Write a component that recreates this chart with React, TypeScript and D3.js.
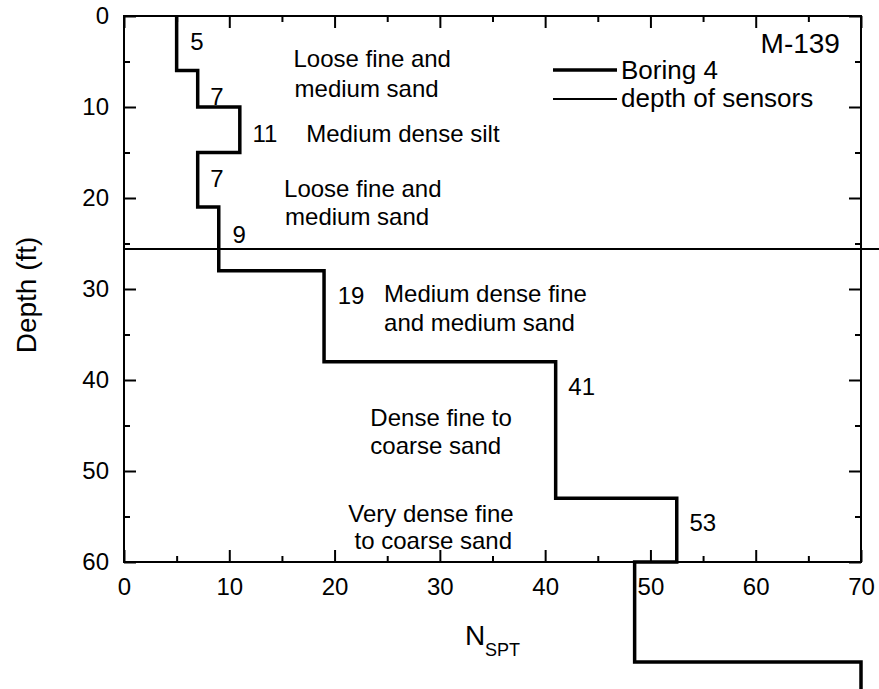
import React, { useRef, useEffect } from "react";
import * as d3 from "d3";

const W = 879;
const H = 689;
const margin = { left: 124, top: 16, right: 18, bottom: 127 };
const FONT = "'Liberation Sans', Arial, Helvetica, sans-serif";

// boring 4: N value of each layer with its top and bottom depth (ft)
const layerN = [5, 7, 11, 7, 9, 19, 41, 52.5, 48.5, 70];
const layerTop = [0, 6, 10, 15, 21, 28, 38, 53, 60, 71];
const layerBottom = [6, 10, 15, 21, 28, 38, 53, 60, 71, 78];

const sensorDepth = 25.6;

const xTicks = [0, 10, 20, 30, 40, 50, 60, 70];
const xMinor = [5, 15, 25, 35, 45, 55, 65];
const yTicks = [0, 10, 20, 30, 40, 50, 60];
const yMinor = [5, 15, 25, 35, 45, 55];

// N numbers written beside the layers (placed in N / depth units)
const nLabels = ["5", "7", "11", "7", "9", "19", "41", "53"];
const nLabelN = [6.3, 8.2, 12.2, 8.2, 10.3, 20.3, 42.2, 53.7];
const nLabelDepth = [3.7, 9.8, 13.8, 18.8, 24.9, 31.6, 41.6, 56.6];

// soil descriptions
const descText = [
  "Loose fine and", "medium sand", "Medium dense silt",
  "Loose fine and", "medium sand",
  "Medium dense fine", "and medium sand",
  "Dense fine to", "coarse sand",
  "Very dense fine", "to coarse sand",
];
const descN = [16.1, 16.2, 17.3, 15.2, 15.3, 24.7, 24.7, 23.4, 23.4, 21.3, 21.9];
const descDepth = [5.6, 8.9, 13.8, 19.9, 23.0, 31.4, 34.6, 45.0, 48.1, 55.6, 58.6];

const App = () => {
  const ref = useRef(null);

  useEffect(() => {
    document.body.style.margin = "0";
    const svg = d3.select(ref.current);
    svg.selectAll("*").remove();

    const x = d3.scaleLinear().domain([0, 70]).range([margin.left, W - margin.right]);
    const y = d3.scaleLinear().domain([0, 60]).range([margin.top, H - margin.bottom]);
    const [x0, x1] = x.range();
    const [y0, y1] = y.range();

    // axes with inward ticks
    const major = 12, minor = 6;
    const fmt = d3.format("d");
    const axes = [
      { ax: d3.axisBottom(x).tickValues(xTicks).tickSize(-major).tickPadding(16).tickFormat(fmt), t: `translate(0,${y1})` },
      { ax: d3.axisBottom(x).tickValues(xMinor).tickSize(-minor).tickFormat(() => ""), t: `translate(0,${y1})` },
      { ax: d3.axisTop(x).tickValues(xTicks).tickSize(-major).tickFormat(() => ""), t: `translate(0,${y0})` },
      { ax: d3.axisTop(x).tickValues(xMinor).tickSize(-minor).tickFormat(() => ""), t: `translate(0,${y0})` },
      { ax: d3.axisLeft(y).tickValues(yTicks).tickSize(-major).tickPadding(15).tickFormat(fmt), t: `translate(${x0},0)` },
      { ax: d3.axisLeft(y).tickValues(yMinor).tickSize(-minor).tickFormat(() => ""), t: `translate(${x0},0)` },
      { ax: d3.axisRight(y).tickValues(yTicks).tickSize(-major).tickFormat(() => ""), t: `translate(${x1},0)` },
      { ax: d3.axisRight(y).tickValues(yMinor).tickSize(-minor).tickFormat(() => ""), t: `translate(${x1},0)` },
    ];
    axes.forEach(a => {
      const g = svg.append("g").attr("transform", a.t).call(a.ax);
      g.select(".domain").remove();
      g.selectAll("line").attr("stroke", "#000").attr("stroke-width", 2);
      g.selectAll("text")
        .attr("fill", "#000")
        .style("font-family", FONT)
        .style("font-size", "24px");
    });

    // frame
    svg.append("rect")
      .attr("x", x0).attr("y", y0)
      .attr("width", x1 - x0).attr("height", y1 - y0)
      .attr("fill", "none").attr("stroke", "#000").attr("stroke-width", 2);

    // depth of sensors
    svg.append("line")
      .attr("x1", x(0)).attr("x2", x(73))
      .attr("y1", y(sensorDepth)).attr("y2", y(sensorDepth))
      .attr("stroke", "#000").attr("stroke-width", 2);

    // boring step profile
    const pts = [];
    layerN.forEach((n, i) => {
      pts.push([n, layerTop[i]]);
      pts.push([n, layerBottom[i]]);
    });
    const line = d3.line().x(d => x(d[0])).y(d => y(d[1]));
    svg.append("path")
      .attr("d", line(pts))
      .attr("fill", "none")
      .attr("stroke", "#000")
      .attr("stroke-width", 3.5)
      .attr("stroke-linejoin", "miter");

    // N labels
    svg.append("g").selectAll("text").data(nLabels).join("text")
      .attr("x", (d, i) => x(nLabelN[i]))
      .attr("y", (d, i) => y(nLabelDepth[i]))
      .style("font-family", FONT).style("font-size", "24px")
      .text(d => d);

    // descriptions
    svg.append("g").selectAll("text").data(descText).join("text")
      .attr("x", (d, i) => x(descN[i]))
      .attr("y", (d, i) => y(descDepth[i]))
      .style("font-family", FONT).style("font-size", "24px")
      .text(d => d);

    // title tag
    svg.append("text")
      .attr("x", x(68)).attr("y", y(4.05))
      .attr("text-anchor", "end")
      .style("font-family", FONT).style("font-size", "28px")
      .text("M-139");

    // legend
    const leg = svg.append("g");
    const legItems = [
      { label: "Boring 4", w: 3.5, ly: 70, ty: 79 },
      { label: "depth of sensors", w: 2, ly: 99, ty: 107 },
    ];
    legItems.forEach(it => {
      leg.append("line")
        .attr("x1", 553).attr("x2", 617)
        .attr("y1", it.ly).attr("y2", it.ly)
        .attr("stroke", "#000").attr("stroke-width", it.w);
      leg.append("text")
        .attr("x", 621).attr("y", it.ty)
        .style("font-family", FONT).style("font-size", "26px")
        .text(it.label);
    });

    // axis titles
    svg.append("text")
      .attr("transform", `translate(36,295) rotate(-90)`)
      .attr("text-anchor", "middle")
      .style("font-family", FONT).style("font-size", "28px")
      .text("Depth (ft)");

    const xt = svg.append("text")
      .attr("x", (x0 + x1) / 2).attr("y", 645)
      .attr("text-anchor", "middle")
      .style("font-family", FONT).style("font-size", "28px");
    xt.append("tspan").text("N");
    xt.append("tspan").attr("dy", 11).style("font-size", "18px").text("SPT");
  });

  return (
    <svg ref={ref} width={W} height={H} style={{ display: "block", background: "#fff" }}></svg>
  );
};

export default App;
